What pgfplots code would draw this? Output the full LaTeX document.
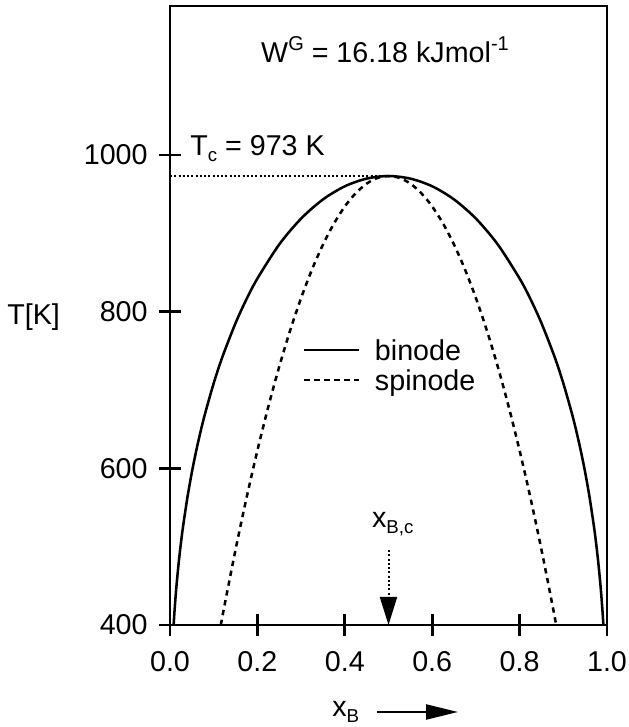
\documentclass[border=0pt]{standalone}
\usepackage{pgfplots}
\pgfplotsset{compat=1.18}
\usepackage{fontspec}
\setmainfont{Liberation Sans}
\usetikzlibrary{arrows.meta}
\newcommand{\fs}{\fontsize{21.5}{25}\selectfont}
\newcommand{\sub}[1]{\raisebox{-4.5pt}{\fontsize{14}{14}\selectfont #1}}
\newcommand{\sups}[1]{\raisebox{9.5pt}{\fontsize{15}{15}\selectfont #1}}
\begin{document}
\begin{tikzpicture}[x=0.75pt,y=0.75pt]
\useasboundingbox (0,0) rectangle (628,727);
\begin{axis}[
  at={(127.5pt,76.5pt)}, anchor=south west, scale only axis,
  width=327.75pt, height=464.25pt,
  xmin=0, xmax=1, ymin=400, ymax=1190,
  axis line style={line width=2pt},
  every tick/.style={line width=2pt, black},
  tick align=center, major tick length=16.5pt,
  xtick={0,0.2,0.4,0.6,0.8,1}, ytick={400,600,800,1000},
  xtick pos=bottom, ytick pos=left,
  minor tick num=0,
  tick label style={font=\fs},
  /pgf/number format/assume math mode=true,
  xticklabel style={yshift=-8pt, /pgf/number format/.cd, fixed, fixed zerofill, precision=1},
  yticklabel style={xshift=-5pt, /pgf/number format/.cd, set thousands separator={}},
  legend style={at={(axis cs:0.304,763.8)}, anchor=north west, draw=none, fill=none,
    font=\fs, inner sep=0pt, row sep=0pt, column sep=11pt,
    nodes={inner sep=0pt, text height=15pt, text depth=7.5pt}},
  legend cell align=left,
  legend image code/.code={\draw[#1] (0pt,3.75pt) -- (41pt,3.75pt);},
]
\addplot[black, line width=1.9pt, smooth] coordinates {
(0.0083,400.1) (0.01,415.0) (0.0125,434.2) (0.015,451.1) (0.02,480.0) (0.025,504.6)
(0.03,526.2) (0.04,563.3) (0.05,594.8) (0.06,622.4) (0.07,647.0) (0.08,669.3)
(0.10,708.5) (0.12,742.3) (0.15,785.3) (0.175,815.8) (0.2,842.2) (0.25,885.7)
(0.3,918.7) (0.35,943.1) (0.4,959.9) (0.45,969.7) (0.5,973.0)
(0.55,969.7) (0.6,959.9) (0.65,943.1) (0.7,918.7) (0.75,885.7) (0.8,842.2)
(0.825,815.8) (0.85,785.3) (0.88,742.3) (0.9,708.5) (0.92,669.3) (0.93,647.0)
(0.94,622.4) (0.95,594.8) (0.96,563.3) (0.97,526.2) (0.975,504.6) (0.98,480.0)
(0.985,451.1) (0.9875,434.2) (0.99,415.0) (0.9917,400.1)
};
\addlegendentry{binode}
\addplot[black, line width=1.9pt, dash pattern=on 4pt off 3.5pt, smooth] coordinates {
(0.1163,400.0) (0.125,425.7) (0.15,496.2) (0.175,561.9) (0.2,622.7) (0.225,678.7)
(0.25,729.8) (0.275,776.0) (0.3,817.3) (0.325,853.8) (0.35,885.4) (0.375,912.2)
(0.4,934.1) (0.425,951.1) (0.45,963.3) (0.475,970.6) (0.5,973.0)
(0.525,970.6) (0.55,963.3) (0.575,951.1) (0.6,934.1) (0.625,912.2) (0.65,885.4)
(0.675,853.8) (0.7,817.3) (0.725,776.0) (0.75,729.8) (0.775,678.7) (0.8,622.7)
(0.825,561.9) (0.85,496.2) (0.875,425.7) (0.8837,400.0)
};
\addlegendentry{spinode}
\addplot[black, line width=1.5pt, dash pattern=on 1.5pt off 1.7pt, forget plot] coordinates {(0,973) (0.5,973)};
\node[anchor=base, font=\fs] at (axis cs:0.492,1117.5) {W\sups{G} = 16.18 kJmol\sups{-1}};
\node[anchor=base west, font=\fs, inner sep=0pt] at (axis cs:0.046,998.7) {T\sub{c} = 973 K};
\node[anchor=base west, font=\fs, inner sep=0pt] at (axis cs:0.462,523.8) {x\sub{B,c}};
\draw[line width=1.5pt, dash pattern=on 1.5pt off 1.7pt, -{Triangle[length=21pt,width=12.75pt]}] (axis cs:0.5,495.7) -- (axis cs:0.5,400);
\end{axis}
\node[anchor=base west, font=\fs, inner sep=0pt] at (7,402) {T[K]};
\node[anchor=base west, font=\fs, inner sep=0pt] at (332,10) {x\sub{B}};
\draw[line width=1.7pt, -{Triangle[length=24pt,width=11.25pt]}] (377,15) -- (458,15);
\end{tikzpicture}
\end{document}
